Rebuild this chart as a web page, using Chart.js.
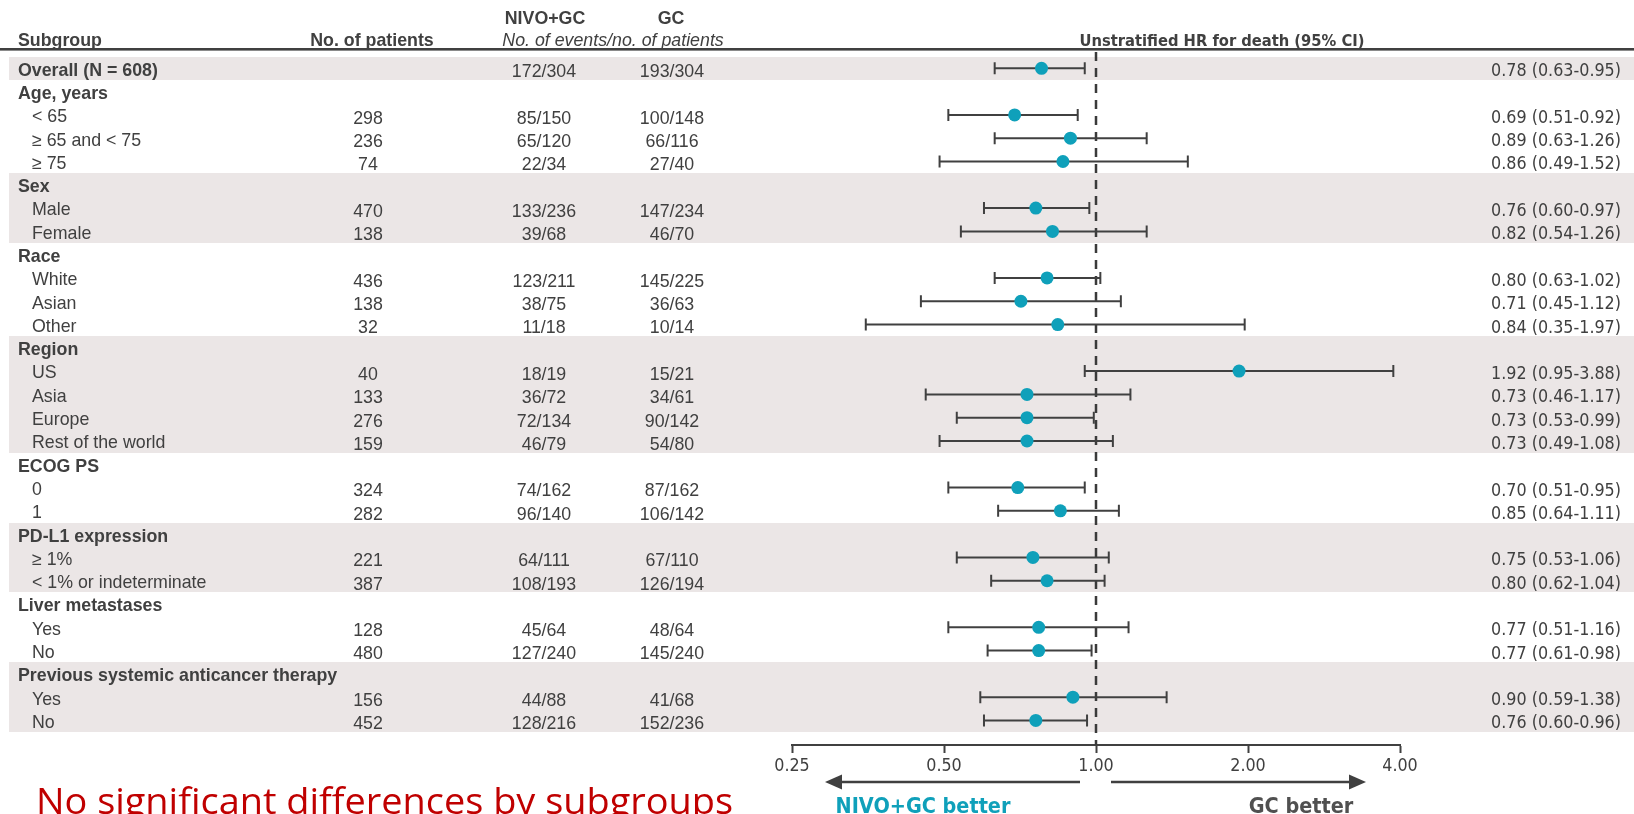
<!DOCTYPE html>
<html>
<head>
<meta charset="utf-8">
<title>Overall survival by subgroup</title>
<script src="https://cdn.jsdelivr.net/npm/chart.js@4.4.1/dist/chart.umd.min.js"></script>
<style>
  html, body { margin: 0; padding: 0; background: #ffffff; overflow: hidden; }
  #wrap { width: 1634px; height: 814px; position: relative; }
  canvas { display: block; }
</style>
</head>
<body>
<div id="wrap"><canvas id="forest" width="1634" height="814"></canvas></div>
<script>
// ---- table rows (top to bottom) ----
const subgroups = [
  'Overall (N = 608)',
  'Age, years', '< 65', '≥ 65 and < 75', '≥ 75',
  'Sex', 'Male', 'Female',
  'Race', 'White', 'Asian', 'Other',
  'Region', 'US', 'Asia', 'Europe', 'Rest of the world',
  'ECOG PS', '0', '1',
  'PD-L1 expression', '≥ 1%', '< 1% or indeterminate',
  'Liver metastases', 'Yes', 'No',
  'Previous systemic anticancer therapy', 'Yes', 'No'
];
// 0 = bold heading row, 1 = indented category row
const rowLevel = [0, 0,1,1,1, 0,1,1, 0,1,1,1, 0,1,1,1,1, 0,1,1, 0,1,1, 0,1,1, 0,1,1];
const patients = ['', '', '298','236','74', '', '470','138', '', '436','138','32', '', '40','133','276','159', '', '324','282', '', '221','387', '', '128','480', '', '156','452'];
const nivoEvents = ['172/304', '', '85/150','65/120','22/34', '', '133/236','39/68', '', '123/211','38/75','11/18', '', '18/19','36/72','72/134','46/79', '', '74/162','96/140', '', '64/111','108/193', '', '45/64','127/240', '', '44/88','128/216'];
const gcEvents = ['193/304', '', '100/148','66/116','27/40', '', '147/234','46/70', '', '145/225','36/63','10/14', '', '15/21','34/61','90/142','54/80', '', '87/162','106/142', '', '67/110','126/194', '', '48/64','145/240', '', '41/68','152/236'];
// unstratified hazard ratios with 95% CI
const hr     = [0.78, null, 0.69,0.89,0.86, null, 0.76,0.82, null, 0.80,0.71,0.84, null, 1.92,0.73,0.73,0.73, null, 0.70,0.85, null, 0.75,0.80, null, 0.77,0.77, null, 0.90,0.76];
const ciLow  = [0.63, null, 0.51,0.63,0.49, null, 0.60,0.54, null, 0.63,0.45,0.35, null, 0.95,0.46,0.53,0.49, null, 0.51,0.64, null, 0.53,0.62, null, 0.51,0.61, null, 0.59,0.60];
const ciHigh = [0.95, null, 0.92,1.26,1.52, null, 0.97,1.26, null, 1.02,1.12,1.97, null, 3.88,1.17,0.99,1.08, null, 0.95,1.11, null, 1.06,1.04, null, 1.16,0.98, null, 1.38,0.96];
const xTicks = [0.25, 0.5, 1, 2, 4];

// ---- layout ----
const W = 1634, H = 814;
const TOP = 56.7, ROW_H = 23.29, AXIS_Y = 745;
const PLOT_L = 792, PLOT_R = 1400;
const INK = '#404040', TEAL = '#0fa0ba', BAND = '#ebe6e6';
const SANS = '"Liberation Sans", Arial, sans-serif';
const COND = '"DejaVu Sans Condensed", "DejaVu Sans", sans-serif';
const CAP = { sans: 0.716, cond: 0.729, open: 0.714 };

const meas = document.createElement('canvas').getContext('2d');
function fitSize(text, family, weight, style, target) {
  meas.font = `${style} ${weight} 100px ${family}`;
  return 100 * target / meas.measureText(text).width;
}
const hrLabel = i => `${hr[i].toFixed(2)} (${ciLow[i].toFixed(2)}-${ciHigh[i].toFixed(2)})`;

const TXT = 17.8;
const HR_SIZE = fitSize(hrLabel(0), COND, 'normal', 'normal', 130);
const TITLE_SIZE = fitSize('Unstratified HR for death (95% CI)', COND, 'bold', 'normal', 285);
const BETTER_SIZE = fitSize('NIVO+GC better', COND, 'bold', 'normal', 175);

function text(ctx, str, x, yc, o) {
  ctx.font = `${o.style || 'normal'} ${o.weight || 'normal'} ${o.size}px ${o.family}`;
  ctx.fillStyle = o.color || INK;
  ctx.textAlign = o.align || 'left';
  ctx.textBaseline = 'alphabetic';
  ctx.fillText(str, x, yc + o.size * o.cap / 2);
}

// shading alternates by heading block, starting with the overall row
const shaded = (() => {
  let g = -1;
  return rowLevel.map(l => { if (l === 0) g++; return g % 2 === 0; });
})();

const forestTable = {
  id: 'forestTable',
  beforeDraw(chart) {
    const { ctx, scales: { y } } = chart;
    ctx.save();
    ctx.fillStyle = '#ffffff';
    ctx.fillRect(0, 0, W, H);
    // one band per shaded block, so rows inside a block join seamlessly
    ctx.fillStyle = BAND;
    let start = null;
    for (let i = 0; i <= subgroups.length; i++) {
      const on = i < subgroups.length && shaded[i];
      if (on && start === null) start = i;
      if (!on && start !== null) {
        const t = Math.round(y.getPixelForValue(start - 0.5));
        const b = Math.round(y.getPixelForValue(i - 0.5));
        ctx.fillRect(9, t, W - 9, b - t);
        start = null;
      }
    }
    // header rule
    ctx.fillStyle = INK;
    ctx.fillRect(0, 48, W, 2.6);
    ctx.restore();
  },
  beforeDatasetsDraw(chart) {
    const { ctx, scales: { x } } = chart;
    const px = x.getPixelForValue(1);
    ctx.save();
    ctx.strokeStyle = '#3a3a3a';
    ctx.lineWidth = 2.5;
    ctx.setLineDash([9, 7]);
    ctx.beginPath();
    ctx.moveTo(px, 52);
    ctx.lineTo(px, AXIS_Y);
    ctx.stroke();
    ctx.restore();
  },
  afterDraw(chart) {
    const { ctx, scales: { x, y } } = chart;
    ctx.save();
    const sansB = { family: SANS, size: TXT, cap: CAP.sans, weight: 'bold' };
    const sans = { family: SANS, size: TXT, cap: CAP.sans };

    // column headings
    text(ctx, 'NIVO+GC', 545, 17.5, { ...sansB, align: 'center' });
    text(ctx, 'GC', 671, 17.5, { ...sansB, align: 'center' });
    text(ctx, 'Subgroup', 18, 40, sansB);
    text(ctx, 'No. of patients', 372, 40, { ...sansB, align: 'center' });
    text(ctx, 'No. of events/no. of patients', 613, 40, { ...sans, style: 'italic', align: 'center' });
    text(ctx, 'Unstratified HR for death (95% CI)', 1222, 40,
         { family: COND, size: TITLE_SIZE, cap: CAP.cond, weight: 'bold', align: 'center' });

    // table body
    subgroups.forEach((label, i) => {
      const yc = y.getPixelForValue(i);
      if (rowLevel[i] === 0) text(ctx, label, 18, yc + 1, sansB);
      else text(ctx, label, 32, yc + 1, sans);
      if (patients[i]) text(ctx, patients[i], 368, yc + 2.5, { ...sans, align: 'center' });
      if (nivoEvents[i]) text(ctx, nivoEvents[i], 544, yc + 2.5, { ...sans, align: 'center' });
      if (gcEvents[i]) text(ctx, gcEvents[i], 672, yc + 2.5, { ...sans, align: 'center' });
      if (hr[i] != null) text(ctx, hrLabel(i), 1621, yc + 1.5,
                              { family: COND, size: HR_SIZE, cap: CAP.cond, align: 'right' });
    });

    // direction arrows under the axis
    const p1 = x.getPixelForValue(1);
    const ay = 782;
    ctx.strokeStyle = INK; ctx.fillStyle = INK; ctx.lineWidth = 2.5;
    const arrow = (from, to) => {
      const dir = Math.sign(to - from);
      ctx.beginPath(); ctx.moveTo(from, ay); ctx.lineTo(to - dir * 12, ay); ctx.stroke();
      ctx.beginPath(); ctx.moveTo(to, ay); ctx.lineTo(to - dir * 17, ay - 7.5);
      ctx.lineTo(to - dir * 17, ay + 7.5); ctx.closePath(); ctx.fill();
    };
    arrow(p1 - 16, p1 - 271);
    arrow(p1 + 15, p1 + 270);
    text(ctx, 'NIVO+GC better', p1 - 173, 805,
         { family: COND, size: BETTER_SIZE, cap: CAP.cond, weight: 'bold', color: TEAL, align: 'center' });
    text(ctx, 'GC better', p1 + 205, 805,
         { family: COND, size: BETTER_SIZE, cap: CAP.cond, weight: 'bold', color: '#505050', align: 'center' });

    // footnote
    const note = 'No significant differences by subgroups';
    ctx.font = 'normal 36px "Open Sans", sans-serif';
    const sx = 697 / ctx.measureText(note).width;
    ctx.translate(36, 814);
    ctx.scale(sx, 1);
    ctx.fillStyle = '#c00000';
    ctx.textAlign = 'left';
    ctx.textBaseline = 'alphabetic';
    ctx.fillText(note, 0, 0);
    ctx.restore();
  }
};

// ---- datasets ----
const rows = subgroups.map((_, i) => i).filter(i => hr[i] != null);
const datasets = [
  {
    label: 'HR',
    data: rows.map(i => ({ x: hr[i], y: i })),
    pointRadius: 6.5,
    pointHoverRadius: 6.5,
    pointBackgroundColor: TEAL,
    pointBorderWidth: 0,
    showLine: false,
    order: 0
  },
  ...rows.map(i => ({
    label: 'CI ' + subgroups[i],
    data: [{ x: ciLow[i], y: i }, { x: ciHigh[i], y: i }],
    showLine: true,
    borderColor: INK,
    borderWidth: 2,
    pointStyle: 'line',
    rotation: 90,
    pointRadius: 6,
    pointHoverRadius: 6,
    pointBorderColor: INK,
    pointBorderWidth: 2,
    order: 1
  }))
];

new Chart(document.getElementById('forest'), {
  type: 'scatter',
  data: { datasets },
  options: {
    responsive: false,
    animation: false,
    devicePixelRatio: 1,
    events: [],
    layout: { padding: { left: PLOT_L, right: W - PLOT_R, top: TOP, bottom: 0 } },
    plugins: { legend: { display: false }, tooltip: { enabled: false } },
    scales: {
      x: {
        type: 'logarithmic',
        position: 'bottom',
        min: xTicks[0],
        max: xTicks[xTicks.length - 1],
        afterBuildTicks: s => { s.ticks = xTicks.map(v => ({ value: v })); },
        afterFit: s => { s.height = H - AXIS_Y; },
        ticks: {
          autoSkip: false, maxRotation: 0, padding: 3,
          color: INK,
          font: { family: COND, size: HR_SIZE },
          callback: v => Number(v).toFixed(2)
        },
        grid: { drawOnChartArea: false, drawTicks: true, tickLength: 8, tickColor: INK, tickWidth: 2 },
        border: { display: true, color: INK, width: 2 }
      },
      y: {
        type: 'linear',
        reverse: true,
        min: -0.5,
        max: -0.5 + (AXIS_Y - TOP) / ROW_H,
        display: false
      }
    }
  },
  plugins: [forestTable]
});
</script>
</body>
</html>
